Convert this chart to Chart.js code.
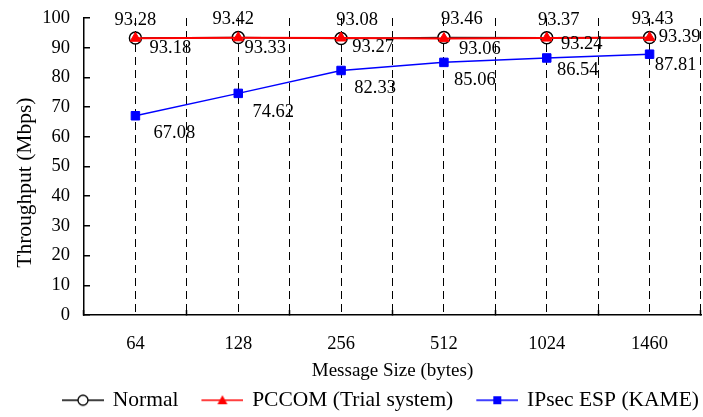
<!DOCTYPE html>
<html><head><meta charset="utf-8">
<script src="https://cdn.jsdelivr.net/npm/chart.js@4/dist/chart.umd.min.js"></script>
<style>html,body{margin:0;padding:0;background:#fff}#wrap{width:703px;height:417px}</style>
</head><body><div id="wrap"><canvas id="c" width="703" height="417"></canvas></div>
<script>
const categories = ['64', '128', '256', '512', '1024', '1460'];
const normalValues = [93.28, 93.42, 93.08, 93.46, 93.37, 93.43];
const pccomValues = [93.18, 93.33, 93.27, 93.06, 93.24, 93.39];
const ipsecValues = [67.08, 74.62, 82.33, 85.06, 86.54, 87.81];
const yTicks = [0, 10, 20, 30, 40, 50, 60, 70, 80, 90, 100];
const seriesNames = ['Normal', 'PCCOM (Trial system)', 'IPsec ESP (KAME)'];
const xTitle = 'Message Size (bytes)';
const yTitle = 'Throughput (Mbps)';

// value-label placement (style only): [dx, dy] from each point
const labelOffsets = [
  [[0,-18],[-5,-18],[16,-18],[18,-18],[12,-18],[3,-18]],
  [[35,10],[27,10],[32,9],[36,11],[35,6],[30,0]],
  [[39,17],[35,19],[34,18],[31,18],[31,12],[26,11]]
];

const SERIF = '"Liberation Serif", "Times New Roman", serif';
const LEAD = 23;

function legendIcon(color, kind) {
  const w = 42 + LEAD, h = 14;
  const c = document.createElement('canvas');
  c.width = w; c.height = h;
  const g = c.getContext('2d');
  g.strokeStyle = color; g.lineWidth = 1.5;
  g.beginPath(); g.moveTo(LEAD, 7); g.lineTo(w, 7); g.stroke();
  const cx = LEAD + 21;
  if (kind === 'circle') {
    g.fillStyle = '#fff'; g.strokeStyle = '#000'; g.lineWidth = 1.3;
    g.beginPath(); g.arc(cx, 7, 5, 0, Math.PI * 2); g.fill(); g.stroke();
  } else if (kind === 'triangle') {
    g.fillStyle = color;
    g.beginPath(); g.moveTo(cx, 2); g.lineTo(cx + 5, 11); g.lineTo(cx - 5, 11); g.closePath(); g.fill();
  } else {
    g.fillStyle = color;
    g.fillRect(cx - 4, 3, 8, 8);
  }
  return c;
}
const legendIcons = [
  legendIcon('#000', 'circle'),
  legendIcon('#ff0000', 'triangle'),
  legendIcon('#0000ff', 'rect')
];

const valueLabels = {
  id: 'valueLabels',
  afterDatasetsDraw(chart) {
    const ctx = chart.ctx;
    ctx.save();
    ctx.font = '18.5px ' + SERIF;
    ctx.fillStyle = '#000';
    ctx.textAlign = 'center';
    ctx.textBaseline = 'middle';
    chart.data.datasets.forEach((ds, di) => {
      const meta = chart.getDatasetMeta(di);
      meta.data.forEach((pt, i) => {
        const off = labelOffsets[di][i];
        ctx.fillText(ds.data[i].toFixed(2), pt.x + off[0], pt.y + off[1]);
      });
    });
    ctx.restore();
  }
};

new Chart(document.getElementById('c'), {
  type: 'line',
  data: {
    labels: categories,
    datasets: [
      { label: seriesNames[0], data: normalValues, order: 3,
        borderColor: '#222', borderWidth: 1.5, pointStyle: 'circle', pointRadius: 6,
        pointBackgroundColor: '#fff', pointBorderColor: '#000', pointBorderWidth: 1.5 },
      { label: seriesNames[1], data: pccomValues, order: 2,
        borderColor: '#ff0000', borderWidth: 2, pointStyle: 'triangle', pointRadius: 6,
        pointBackgroundColor: '#ff0000', pointBorderColor: '#ff0000', pointBorderWidth: 1 },
      { label: seriesNames[2], data: ipsecValues, order: 1,
        borderColor: '#0000ff', borderWidth: 1.5, pointStyle: 'rect', pointRadius: 6,
        pointBackgroundColor: '#0000ff', pointBorderColor: '#0000ff', pointBorderWidth: 1 }
    ]
  },
  options: {
    responsive: false,
    animation: false,
    devicePixelRatio: 1,
    layout: { autoPadding: false, padding: { top: 18, right: 2, bottom: -4, left: 0 } },
    plugins: {
      tooltip: { enabled: false },
      legend: {
        position: 'bottom',
        align: 'end',
        labels: {
          usePointStyle: true,
          pointStyleWidth: 38 + LEAD,
          padding: 2,
          color: '#000',
          font: { family: SERIF, size: 21.5 },
          generateLabels(chart) {
            return chart.data.datasets.map((ds, i) => ({
              text: ds.label,
              pointStyle: legendIcons[i],
              fillStyle: 'transparent', strokeStyle: 'transparent', lineWidth: 0,
              hidden: false, datasetIndex: i, fontColor: '#000'
            }));
          }
        }
      }
    },
    scales: {
      x: {
        type: 'category',
        offset: true,
        position: 'bottom',
        grid: {
          offset: true, drawOnChartArea: true, drawTicks: true, tickLength: -5,
          lineWidth: 1, tickColor: '#000', tickWidth: 1.5,
          color: (c) => (c.index === categories.length ? 'rgba(0,0,0,0)' : '#000')
        },
        border: { display: true, color: '#000', width: 1.5, dash: [8, 5] },
        ticks: { color: '#000', font: { family: SERIF, size: 18.5 }, padding: 23, maxRotation: 0, autoSkip: false },
        title: { display: true, text: xTitle, color: '#000', font: { family: SERIF, size: 19 }, padding: { top: 0, bottom: 5.5 } },
        afterFit: (s) => { s.height = 72.5; s.paddingLeft = 0; s.paddingRight = 0; }
      },
      x2: {
        type: 'category',
        labels: categories,
        offset: true,
        position: 'bottom',
        grid: { offset: false, drawOnChartArea: true, drawTicks: false, lineWidth: 1, color: '#000' },
        border: { display: false, dash: [8, 5] },
        ticks: { display: false },
        afterFit: (s) => { s.height = 0; s.paddingLeft = 0; s.paddingRight = 0; }
      },
      y: {
        min: 0, max: 100,
        afterBuildTicks: (s) => { s.ticks = yTicks.map(v => ({ value: v })); },
        grid: { drawOnChartArea: false, drawTicks: true, tickLength: -6, color: '#000', lineWidth: 1.5 },
        border: { display: true, color: '#000', width: 1.5 },
        ticks: { color: '#000', font: { family: SERIF, size: 18.5 }, padding: 20 },
        title: { display: true, text: yTitle + '      ', color: '#000', font: { family: SERIF, size: 21.5 }, padding: { top: 12, bottom: 0 } },
        afterFit: (s) => { s.width = 84; s.paddingTop = 0; s.paddingBottom = 0; }
      }
    }
  },
  plugins: [valueLabels]
});
</script>
</body></html>
